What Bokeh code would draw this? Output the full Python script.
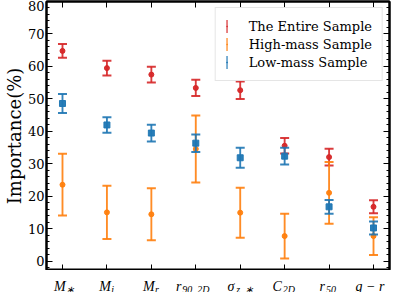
from bokeh.plotting import figure
from bokeh.layouts import column
from bokeh.models import (Range1d, FixedTicker, LinearAxis,
                          Legend, LegendItem, ColumnDataSource)
from bokeh.embed import file_html
from bokeh.resources import INLINE

# ---- data ----
feature_base = ["M", "M", "M", "r", "σ", "C", "r", "g − r"]
feature_sub = ["∗", "i", "r", "90, 2D", "z, ∗", "2D", "50", ""]

entire_val = [64.8, 59.5, 57.5, 53.4, 52.7, 35.6, 32.1, 16.8]
entire_err = [2.1, 2.3, 2.4, 2.5, 2.7, 2.4, 2.6, 2.0]

high_val = [23.6, 15.1, 14.5, 34.6, 15.0, 7.8, 21.1, 7.8]
high_err = [9.5, 8.2, 8.0, 10.3, 7.7, 6.9, 9.5, 5.8]

low_val = [48.6, 42.0, 39.5, 36.4, 31.9, 32.4, 16.8, 10.3]
low_err = [2.9, 2.4, 2.6, 2.7, 3.1, 2.6, 2.1, 2.0]

y_ticks = [0, 10, 20, 30, 40, 50, 60, 70, 80]

series = [
    ("The Entire Sample", entire_val, entire_err, "#d62728", "circle", 5),
    ("High-mass Sample", high_val, high_err, "#ff7f0e", "circle", 5),
    ("Low-mass Sample", low_val, low_err, "#1f77b4", "square", 6),
]

FONT = "DejaVu Serif"
xs = list(range(len(feature_base)))
y_minor = list(range(-2, 81, 2))
BL, BR = 41, 2
W = 391
xr = Range1d(-0.36, 7.36)

p = figure(width=W, height=270, x_range=xr, y_range=Range1d(-2.8, 80),
           output_backend="svg", toolbar_location=None,
           min_border_left=BL, min_border_right=BR, min_border_top=1, min_border_bottom=0)
p.grid.visible = False
p.outline_line_color = "black"
p.outline_line_width = 2

left = p.left[0]
bottom = p.below[0]
left.ticker = FixedTicker(ticks=y_ticks, minor_ticks=y_minor)
bottom.ticker = FixedTicker(ticks=xs, minor_ticks=[])
right = LinearAxis(ticker=FixedTicker(ticks=y_ticks, minor_ticks=y_minor))
top = LinearAxis(ticker=FixedTicker(ticks=xs, minor_ticks=[]))
p.add_layout(right, "right")
p.add_layout(top, "above")

for ax in [left, bottom, right, top]:
    ax.axis_line_color = "black"
    ax.axis_line_width = 2
    ax.major_tick_in = 6
    ax.major_tick_out = 0
    ax.minor_tick_in = 3
    ax.minor_tick_out = 0
    ax.major_tick_line_color = "black"
    ax.minor_tick_line_color = "black"
    ax.major_label_text_font = FONT
    ax.major_label_text_color = "black"

left.major_label_text_font_size = "13px"
left.major_label_standoff = 2
left.axis_label = "Importance(%)"
left.axis_label_text_font = FONT
left.axis_label_text_font_size = "18px"
left.axis_label_text_font_style = "normal"
left.axis_label_text_color = "black"
left.axis_label_standoff = 0

right.major_label_overrides = {t: "" for t in y_ticks}
right.major_label_standoff = 0
top.major_label_overrides = {t: "" for t in xs}
top.major_label_standoff = 0
bottom.major_label_overrides = {t: "" for t in xs}
bottom.major_label_standoff = 0

# data marks
legend_items = []
for name, vals, errs, color, marker, msize in series:
    src = ColumnDataSource(dict(
        x=xs, y=vals,
        top=[v + e for v, e in zip(vals, errs)],
        bottom=[v - e for v, e in zip(vals, errs)],
    ))
    bar = p.vbar(x="x", top="top", bottom="bottom", width=0.042, source=src,
                 fill_color=color, line_color=None, fill_alpha=0.9)
    p.scatter(x="x", y="top", source=src, marker="dash", size=9,
              line_color=color, line_width=2, line_alpha=0.9)
    p.scatter(x="x", y="bottom", source=src, marker="dash", size=9,
              line_color=color, line_width=2, line_alpha=0.9)
    dot = p.scatter(x="x", y="y", source=src, marker=marker, size=msize,
                    fill_color=color, line_color=color, alpha=0.95)
    legend_items.append(LegendItem(label=name, renderers=[bar, dot]))

legend = Legend(items=legend_items, location="top_right")
legend.label_text_font = FONT
legend.label_text_font_size = "13px"
legend.label_text_color = "black"
legend.glyph_width = 2
legend.glyph_height = 16
legend.label_height = 16
legend.label_standoff = 21
legend.spacing = 2
legend.padding = 10
legend.margin = 6
legend.border_line_color = "#cccccc"
legend.border_line_width = 1
legend.background_fill_alpha = 0.8
p.add_layout(legend)

# ---- x tick labels (math-like, with subscripts) in a strip below ----
def text_width(s, size):
    wide = {"M": 0.86, "C": 0.72, "σ": 0.62, "r": 0.46, "g": 0.62, "i": 0.32, "z": 0.52,
            "D": 0.77, "∗": 0.50, ",": 0.32, " ": 0.32, "−": 0.84}
    return sum(wide.get(c, 0.64) for c in s) * size

BASE, SUB = 14, 10
base_off, sub_off = [], []
for b, s in zip(feature_base, feature_sub):
    wb = text_width(b, BASE)
    ws = text_width(s, SUB)
    start = -(wb + ws) / 2
    base_off.append(start)
    sub_off.append(start + wb)

lab_src = ColumnDataSource(dict(x=xs, y=[0] * len(xs), base=feature_base, sub=feature_sub,
                                boff=base_off, soff=sub_off))

q = figure(width=W, height=22, x_range=xr, y_range=Range1d(0, 1),
           output_backend="svg", toolbar_location=None,
           x_axis_location=None, y_axis_location=None,
           min_border_left=BL, min_border_right=BR, min_border_top=0, min_border_bottom=0)
q.grid.visible = False
q.outline_line_color = None
q.text(x="x", y="y", text="base", x_offset="boff", y_offset=-6, source=lab_src,
       text_align="left", text_baseline="alphabetic", text_font=FONT,
       text_font_style="italic", text_font_size=f"{BASE}px", text_color="black")
q.text(x="x", y="y", text="sub", x_offset="soff", y_offset=-3, source=lab_src,
       text_align="left", text_baseline="alphabetic", text_font=FONT,
       text_font_style="italic", text_font_size=f"{SUB}px", text_color="black")

layout = column(p, q, spacing=0)
open("out.html", "w").write(file_html(layout, INLINE))
